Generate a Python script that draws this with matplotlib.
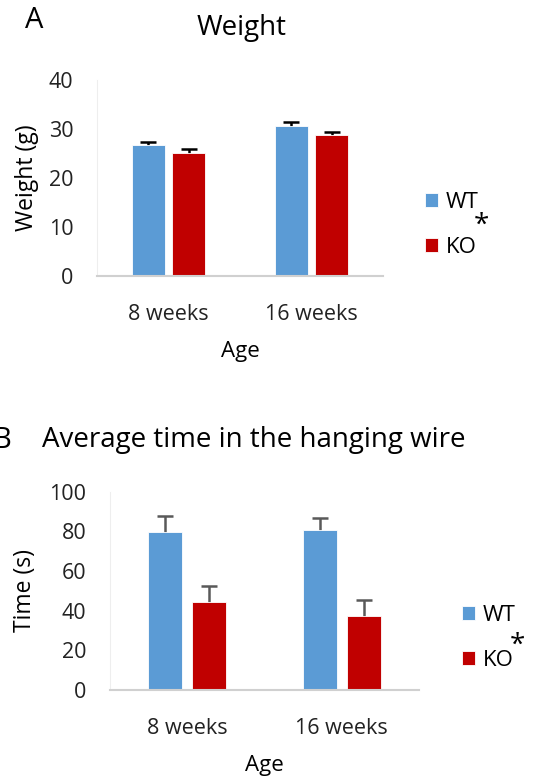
import numpy as np
import matplotlib.pyplot as plt

plt.rcParams['font.family'] = ['Open Sans', 'DejaVu Sans']

ages = ['8 weeks', '16 weeks']
groups = ['WT', 'KO']
colors = ['#5B9BD5', '#C00000']

# Weight (g)
weight_wt = [26.7, 30.7]
weight_ko = [25.2, 28.8]
weight_wt_err = [0.7, 0.7]
weight_ko_err = [0.7, 0.5]

# Hanging wire time (s)
time_wt = [79.8, 80.5]
time_ko = [44.4, 37.2]
time_wt_err = [8.1, 6.2]
time_ko_err = [8.0, 8.0]

W, H = 533, 780
fig = plt.figure(figsize=(W / 100, H / 100), dpi=100)


def px_axes(left, right, top, bottom):
    return fig.add_axes([left / W, 1 - bottom / H, (right - left) / W, (bottom - top) / H])


def draw(ax, wt, ko, wt_err, ko_err, ymax, step, width, off, ecolor):
    x = np.arange(len(ages))
    handles = []
    for vals, errs, c, sign in [(wt, wt_err, colors[0], -1), (ko, ko_err, colors[1], 1)]:
        xs = x + sign * off
        b = ax.bar(xs, vals, width, color=c, edgecolor='white', linewidth=0.6, zorder=2)
        handles.append(b)
        # symmetric bars drawn behind the columns, so only the upper half shows
        ax.errorbar(xs, vals, yerr=errs, fmt='none',
                    ecolor=ecolor, elinewidth=1.8, capsize=6, capthick=1.8, zorder=1)
    ax.set_xlim(-0.5, len(ages) - 0.5)
    ax.set_ylim(0, ymax)
    ax.set_yticks(np.arange(0, ymax + 1, step))
    ax.set_xticks(x)
    ax.set_xticklabels(ages)
    ax.tick_params(length=0, labelsize=15.5, colors='#222222')
    ax.tick_params(axis='y', pad=17)
    ax.tick_params(axis='x', pad=20)
    for s in ['top', 'right']:
        ax.spines[s].set_visible(False)
    ax.spines['left'].set_color('#eeeeee')
    ax.spines['bottom'].set_color('#d0d0d0')
    ax.spines['bottom'].set_linewidth(1.5)
    return handles


# Panel A
ax1 = px_axes(97, 383, 80, 276)
h1 = draw(ax1, weight_wt, weight_ko, weight_wt_err, weight_ko_err, 40, 10, 0.23, 0.142, 'black')
ax1.set_ylabel('Weight (g)', fontsize=16.5, labelpad=7)
ax1.set_xlabel('Age', fontsize=16, labelpad=12)
fig.text(34 / W, 1 - 21 / H, 'A', fontsize=21, ha='center', va='center')
fig.text(242 / W, 1 - 28 / H, 'Weight', fontsize=20, ha='center', va='center')
ax1.legend(h1, groups, loc='center left', bbox_to_anchor=(425 / W, 1 - 225 / H),
           bbox_transform=fig.transFigure, frameon=False, fontsize=16,
           handlelength=0.6, handleheight=0.6, handletextpad=0.35,
           labelspacing=1.1, borderpad=0, borderaxespad=0)
fig.text(481 / W, 1 - 226 / H, '*', fontsize=20, ha='center', va='center')

# Panel B
ax2 = px_axes(110, 419, 491.7, 690)
h2 = draw(ax2, time_wt, time_ko, time_wt_err, time_ko_err, 100, 20, 0.22, 0.142, '#595959')
ax2.set_ylabel('Time (s)', fontsize=16.5, labelpad=9)
ax2.set_xlabel('Age', fontsize=16, labelpad=12)
fig.text(11 / W, 1 - 440 / H, 'B', fontsize=21, ha='right', va='center')
fig.text(254 / W, 1 - 440 / H, 'Average time in the hanging wire', fontsize=20,
         ha='center', va='center')
ax2.legend(h2, groups, loc='center left', bbox_to_anchor=(461.7 / W, 1 - 638 / H),
           bbox_transform=fig.transFigure, frameon=False, fontsize=16,
           handlelength=0.6, handleheight=0.6, handletextpad=0.35,
           labelspacing=1.1, borderpad=0, borderaxespad=0)
fig.text(517 / W, 1 - 646 / H, '*', fontsize=20, ha='center', va='center')

fig.savefig('out.png', dpi=100)
